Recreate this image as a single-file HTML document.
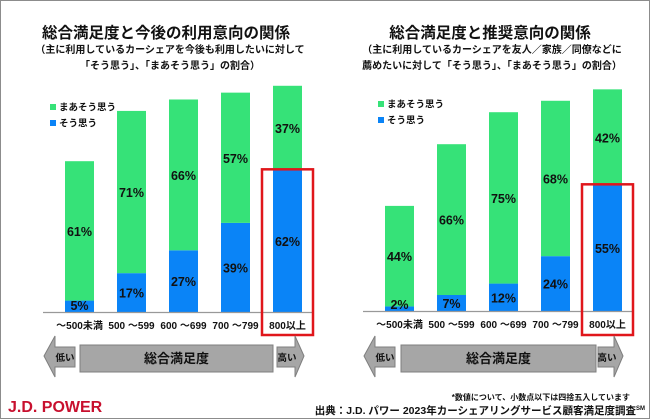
<!DOCTYPE html>
<html><head><meta charset="utf-8">
<style>
html,body{margin:0;padding:0;background:#fff;}
svg{display:block;font-family:"Liberation Sans","Noto Sans CJK JP",sans-serif;}
</style></head>
<body>
<svg id="c" width="650" height="420" viewBox="0 0 650 420">
<rect x="0.5" y="0.5" width="649" height="418" fill="#fff" stroke="#8c8c8c"/>
<text x="166" y="38" text-anchor="middle" font-size="15.5" font-weight="bold" fill="#111">総合満足度と今後の利用意向の関係</text>
<text x="170" y="53" text-anchor="middle" font-size="10" font-weight="bold" fill="#111">（主に利用しているカーシェアを今後も利用したいに対して</text>
<text x="170" y="69" text-anchor="middle" font-size="10" font-weight="bold" fill="#111">「そう思う」、「まあそう思う」の割合）</text>
<text x="490" y="38" text-anchor="middle" font-size="15.5" font-weight="bold" fill="#111">総合満足度と推奨意向の関係</text>
<text x="492" y="53" text-anchor="middle" font-size="10" font-weight="bold" fill="#111">（主に利用しているカーシェアを友人／家族／同僚などに</text>
<text x="492" y="69" text-anchor="middle" font-size="10" font-weight="bold" fill="#111">薦めたいに対して「そう思う」、「まあそう思う」の割合）</text>
<text x="630" y="400" text-anchor="end" font-size="8" font-weight="bold" fill="#111">*数値について、小数点以下は四捨五入しています</text>
<text x="645" y="414" text-anchor="end" font-size="10.5" font-weight="bold" fill="#111">出典：J.D. パワー 2023年カーシェアリングサービス顧客満足度調査<tspan font-size="6" dy="-4">SM</tspan></text>
<text x="8" y="412" font-size="16" font-weight="bold" fill="#c8102e">J.D. POWER</text>
</svg>
<script>
const categories=["～500未満","500 ～599","600 ～699","700 ～799","800以上"];
const leftSou=[5,17,27,39,62];
const leftMaa=[61,71,66,57,37];
const rightSou=[2,7,12,24,55];
const rightMaa=[44,66,75,68,42];
const legendLabels=["まあそう思う","そう思う"];
const NS="http://www.w3.org/2000/svg";
const svg=document.getElementById('c');
const GREEN="#36e278",BLUE="#0a84f7";
function mk(tag,attrs,parent){const e=document.createElementNS(NS,tag);for(const k in attrs)e.setAttribute(k,attrs[k]);(parent||svg).appendChild(e);return e;}
function drawChart(prefix,x0,base,sou,maa,legX,legY,arrowCfg){
  const k=2.285,step=52,bw=29;
  const y=v=>base-v*k;
  const xs=i=>x0+i*step;
  const g=mk('g',{});
  
  
  sou.forEach((v,i)=>{
    const b=mk('rect',{x:xs(i),y:y(v),width:bw,height:v*k,fill:BLUE},g);
    
    
    const gr=mk('rect',{x:xs(i),y:y(v+maa[i]),width:bw,height:maa[i]*k,fill:GREEN},g);
    
    
    const ly=Math.min(y(v/2)+5,base-2);
    const t1=mk('text',{x:xs(i)+bw/2,y:ly,'text-anchor':'middle','font-size':12.5,'font-weight':'bold',fill:'#111'},g);
    t1.textContent=v+'%';
    
    
    const t2=mk('text',{x:xs(i)+bw/2,y:y(v+maa[i]/2)+5,'text-anchor':'middle','font-size':12.5,'font-weight':'bold',fill:'#111'},g);
    t2.textContent=maa[i]+'%';
    
    
    const c=mk('text',{x:xs(i)+bw/2,y:base+17,'text-anchor':'middle','font-size':10,'font-weight':'bold',fill:'#111'},g);
    c.textContent=categories[i];
    
    
  });
  const ax=mk('line',{x1:x0-22,x2:x0+4*step+bw+12,y1:base+0.5,y2:base+0.5,stroke:'#999','stroke-width':1.2},g);
  
  
  const last=4;
  const topBlue=y(sou[last]);
  const rb=mk('rect',{x:xs(last)-11,y:topBlue-1,width:bw+22,height:335-topBlue+1,fill:'none',stroke:'#e0161b','stroke-width':2.5},g);
  
  
  [GREEN,BLUE].forEach((col,j)=>{
    const s=mk('rect',{x:legX,y:legY+j*16-4,width:6,height:6,fill:col},g);
    
    
    const t=mk('text',{x:legX+9,y:legY+j*16+2.5,'font-size':9.5,'font-weight':'bold',fill:'#111'},g);
    t.textContent=legendLabels[j];
    
    
  });
  const a=arrowCfg;
  const la=mk('polygon',{points:`${a.lt},356 ${a.ls},336 ${a.ls},347 ${a.le},347 ${a.le},367 ${a.ls},367 ${a.ls},377`,fill:'#a6a6a6',stroke:'#7f7f7f','stroke-width':1},g);
  
  
  const lt=mk('text',{x:(a.ls+a.le)/2,y:361,'text-anchor':'middle','font-size':9.5,'font-weight':'bold',fill:'#111'},g);
  lt.textContent='低い';
  
  
  const mb=mk('rect',{x:a.bs,y:345,width:a.be-a.bs,height:27,fill:'#a6a6a6',stroke:'#7f7f7f','stroke-width':1},g);
  
  
  const mt=mk('text',{x:(a.bs+a.be)/2,y:363,'text-anchor':'middle','font-size':13,'font-weight':'bold',fill:'#111'},g);
  mt.textContent='総合満足度';
  
  
  const ra=mk('polygon',{points:`${a.rt},356 ${a.re},336 ${a.re},347 ${a.rs},347 ${a.rs},367 ${a.re},367 ${a.re},377`,fill:'#a6a6a6',stroke:'#7f7f7f','stroke-width':1},g);
  
  
  const rt=mk('text',{x:(a.rs+a.re)/2+1,y:361,'text-anchor':'middle','font-size':9.5,'font-weight':'bold',fill:'#111'},g);
  rt.textContent='高い';
  
  
}
drawChart('left',65,312,leftSou,leftMaa,50,108,{lt:44,ls:55,le:75,bs:80,be:273,rs:277,re:295,rt:304});
drawChart('right',385,311,rightSou,rightMaa,378,105,{lt:364,ls:375,le:395,bs:401,be:596,rs:598,re:614,rt:623});
</script>
</body></html>
